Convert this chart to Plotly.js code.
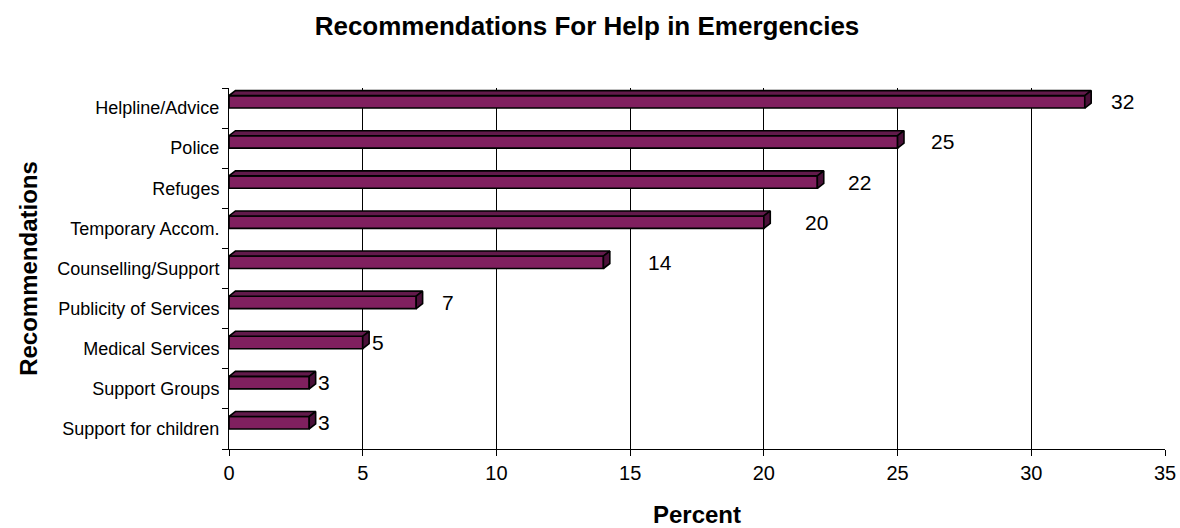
<!DOCTYPE html>
<html>
<head>
<meta charset="utf-8">
<script src="https://cdn.plot.ly/plotly-3.0.1.min.js"></script>
<style>html,body{margin:0;padding:0;background:#fff;}#chart{width:1180px;height:528px;}</style>
</head>
<body>
<div id="chart"></div>
<script>
// Data (top to bottom as shown)
var categories = ["Helpline/Advice","Police","Refuges","Temporary Accom.","Counselling/Support","Publicity of Services","Medical Services","Support Groups","Support for children"];
var percents = [32, 25, 22, 20, 14, 7, 5, 3, 3];
var xTicks = [0, 5, 10, 15, 20, 25, 30, 35];

// Styling constants (not data)
var frontColor = "#80205F", topColor = "#621A4B", sideColor = "#4A1038";
var faceH = 0.31;    // front face thickness (category units)
var depthX = 0.24;   // depth offset in x (data units)
var depthY = 0.125;  // depth offset in y (category units)
var labelShift = [26, 33, 31, 41, 45, 26, 9, 9, 9];

var n = categories.length;
var pos = categories.map(function(_, i){ return n - 1 - i; });

var front = {
  type: "bar", orientation: "h",
  x: percents, y: pos, width: faceH, offset: 0,
  marker: {color: frontColor, line: {color: "#000", width: 1.6}},
  hoverinfo: "skip", showlegend: false
};

var tx = [], ty = [], sx = [], sy = [];
percents.forEach(function(v, i){
  var c = pos[i];
  tx.push(0, v, v + depthX, depthX, 0, null);
  ty.push(c + faceH, c + faceH, c + faceH + depthY, c + faceH + depthY, c + faceH, null);
  sx.push(v, v + depthX, v + depthX, v, v, null);
  sy.push(c, c + depthY, c + faceH + depthY, c + faceH, c, null);
});
var topFace = {type: "scatter", mode: "lines", x: tx, y: ty, fill: "toself", fillcolor: topColor,
  line: {color: "#000", width: 1.6}, hoverinfo: "skip", showlegend: false};
var sideFace = {type: "scatter", mode: "lines", x: sx, y: sy, fill: "toself", fillcolor: sideColor,
  line: {color: "#000", width: 1.6}, hoverinfo: "skip", showlegend: false};

var annotations = percents.map(function(v, i){
  return {x: v, y: pos[i] + faceH / 2, text: String(v), showarrow: false,
    xanchor: "left", yanchor: "middle", xshift: labelShift[i] - 2,
    font: {family: "Liberation Sans, Arial, sans-serif", size: 21, color: "#000"}};
});

var boundaries = [];
for (var k = 0; k <= n; k++) boundaries.push(k - 0.5);

var layout = {
  width: 1180, height: 528,
  margin: {l: 229, r: 15, t: 88, b: 79},
  paper_bgcolor: "#fff", plot_bgcolor: "#fff",
  font: {family: "Liberation Sans, Arial, sans-serif", color: "#000"},
  title: {text: "<b>Recommendations For Help in Emergencies</b>", x: 587/1180, xanchor: "center",
    y: 1 - 26/528, yanchor: "middle", font: {size: 26, color: "#000"}},
  xaxis: {
    range: [0, 35], tickvals: xTicks, ticktext: xTicks.map(String),
    ticks: "outside", ticklen: 6, tickcolor: "#000", tickwidth: 1,
    showline: true, linecolor: "#000", linewidth: 1,
    showgrid: false, zeroline: false,
    minor: {tickvals: xTicks.slice(1, -1), showgrid: true, gridcolor: "#000", gridwidth: 1, ticks: ""},
    tickfont: {size: 20}, fixedrange: true,
    title: {text: "<b>Percent</b>", font: {size: 24}, standoff: 26}
  },
  yaxis: {
    range: [-0.5, n - 0.5], tickvals: pos, ticktext: categories,
    ticks: "outside", ticklen: 0, tickcolor: "#000",
    minor: {tickvals: boundaries, ticks: "outside", ticklen: 6, tickcolor: "#000", tickwidth: 1, showgrid: false},
    showline: true, linecolor: "#000", linewidth: 1,
    showgrid: false, zeroline: false,
    ticklabelstandoff: 5,
    tickfont: {size: 18}, fixedrange: true,
    title: {text: "<b>Recommendations</b>", font: {size: 24}, standoff: 12}
  },
  annotations: annotations,
  bargap: 0
};

Plotly.newPlot("chart", [front, topFace, sideFace], layout, {displayModeBar: false, staticPlot: true});
</script>
</body>
</html>
